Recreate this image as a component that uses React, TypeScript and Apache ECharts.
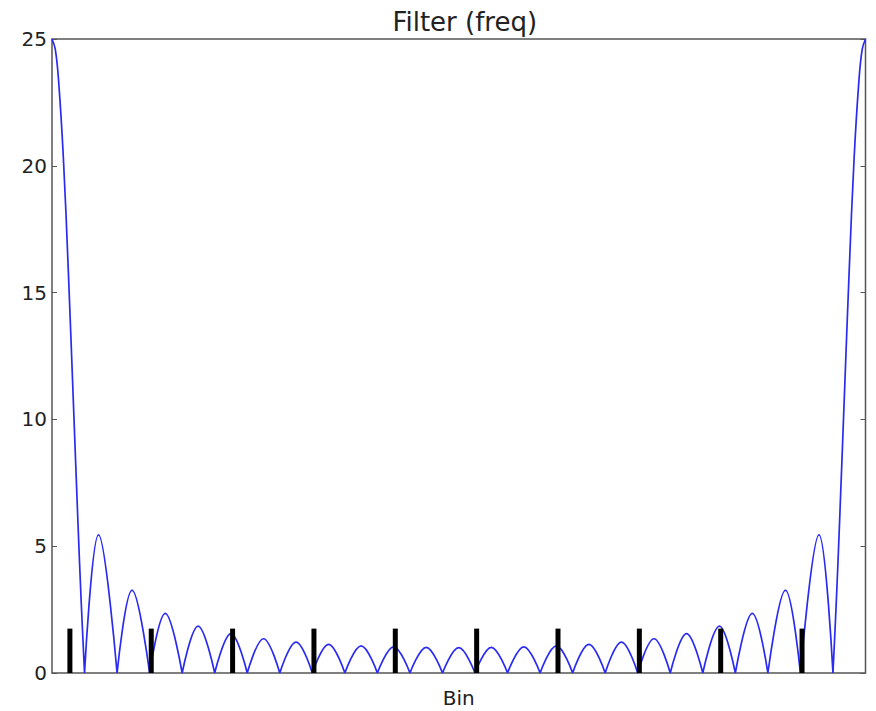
import React, { useEffect, useRef } from 'react';
import * as echarts from 'echarts';

// ---- data ----
const titleText = 'Filter (freq)';
const xAxisName = 'Bin';
const yTicks = [0, 5, 10, 15, 20, 25];
const xRange = [0, 25];
// zero crossings of the response (bins)
const zeroBins = [1, 2, 3, 4, 5, 6, 7, 8, 9, 10, 11, 12, 13, 14, 15, 16, 17, 18, 19, 20, 21, 22, 23, 24];
// main lobe (edge peak to first zero): offset from edge, magnitude
const mainLobeOffsets = [0, 0.1, 0.2, 0.35, 0.5, 0.65, 0.8, 0.9, 1.0];
const mainLobeValues = [25, 24.6, 23.4, 20.3, 15.9, 10.9, 5.85, 2.73, 0];
// side lobes: peak position and peak magnitude
const sidelobePeakBins = [1.43, 2.46, 3.48, 4.49, 5.5, 6.5, 7.5, 8.5, 9.5, 10.5, 11.5, 12.5, 13.5, 14.5, 15.5, 16.5, 17.5, 18.5, 19.5, 20.51, 21.52, 22.54, 23.57];
const sidelobePeakValues = [5.45, 3.27, 2.35, 1.85, 1.55, 1.35, 1.22, 1.13, 1.07, 1.03, 1.01, 1.0, 1.01, 1.03, 1.07, 1.13, 1.22, 1.35, 1.55, 1.85, 2.35, 3.27, 5.45];
// black markers
const markerBins = [0.55, 3.05, 5.55, 8.05, 10.55, 13.05, 15.55, 18.05, 20.55, 23.05];
const markerValues = [1.75, 1.75, 1.75, 1.75, 1.75, 1.75, 1.75, 1.75, 1.75, 1.75];

const FONT = 'DejaVu Sans';

export default function App() {
  const ref = useRef<HTMLDivElement>(null);
  useEffect(() => {
    if (!ref.current) return;
    const chart = echarts.init(ref.current, undefined, { renderer: 'svg' });

    const curve: any[] = [];
    mainLobeOffsets.forEach((o, i) => curve.push([xRange[0] + o, mainLobeValues[i]]));
    curve.push([zeroBins[0], '-']);
    for (let i = 0; i < sidelobePeakBins.length; i++) {
      curve.push([zeroBins[i], 0]);
      curve.push([sidelobePeakBins[i], sidelobePeakValues[i]]);
      curve.push([zeroBins[i + 1], 0]);
      curve.push([zeroBins[i + 1], '-']);
    }
    for (let i = mainLobeOffsets.length - 1; i >= 0; i--) {
      curve.push([xRange[1] - mainLobeOffsets[i], mainLobeValues[i]]);
    }

    const plotLeft = 52;
    const plotRight = 10.5;
    const plotCenter = plotLeft + (876 - plotLeft - plotRight) / 2;

    chart.setOption({
      animation: false,
      backgroundColor: '#ffffff',
      title: {
        text: titleText,
        left: plotCenter + 1,
        textAlign: 'center',
        top: 4,
        textStyle: { fontFamily: FONT, fontSize: 26, fontWeight: 'normal', color: '#222' },
      },
      grid: {
        left: plotLeft,
        right: plotRight,
        top: 39,
        bottom: 38,
        show: true,
        borderColor: '#555',
        borderWidth: 1.5,
        backgroundColor: 'transparent',
        outerBoundsMode: 'none',
        containLabel: false,
      },
      xAxis: {
        type: 'value',
        min: xRange[0],
        max: xRange[1],
        axisLine: { show: false },
        axisTick: { show: false },
        axisLabel: { show: false },
        splitLine: { show: false },
        name: xAxisName,
        nameLocation: 'middle',
        nameGap: 15,
        nameTextStyle: { fontFamily: FONT, fontSize: 20, color: '#222' },
      },
      yAxis: [
        {
          type: 'value',
          min: yTicks[0],
          max: yTicks[yTicks.length - 1],
          interval: 5,
          axisLine: { show: false },
          axisTick: { show: true, inside: true, length: 5, lineStyle: { color: '#555', width: 1 } },
          axisLabel: { fontFamily: FONT, fontSize: 20, color: '#222', margin: 5 },
          splitLine: { show: false },
        },
        {
          type: 'value',
          position: 'right',
          min: yTicks[0],
          max: yTicks[yTicks.length - 1],
          interval: 5,
          axisLine: { show: false },
          axisTick: { show: true, inside: true, length: 5, lineStyle: { color: '#555', width: 1 } },
          axisLabel: { show: false },
          splitLine: { show: false },
        },
      ],
      series: [
        {
          type: 'line',
          data: curve,
          smooth: 0.4,
          showSymbol: false,
          connectNulls: false,
          lineStyle: { color: '#2a2af2', width: 1.7 },
          z: 2,
        },
        {
          type: 'bar',
          data: markerBins.map((x, i) => [x, markerValues[i]]),
          barWidth: 5,
          itemStyle: { color: '#000' },
          z: 3,
        },
      ],
    });
    return () => chart.dispose();
  }, []);
  return (
    <div
      ref={ref}
      style={{ position: 'fixed', left: 0, top: 0, width: 876, height: 711 }}
    />
  );
}
